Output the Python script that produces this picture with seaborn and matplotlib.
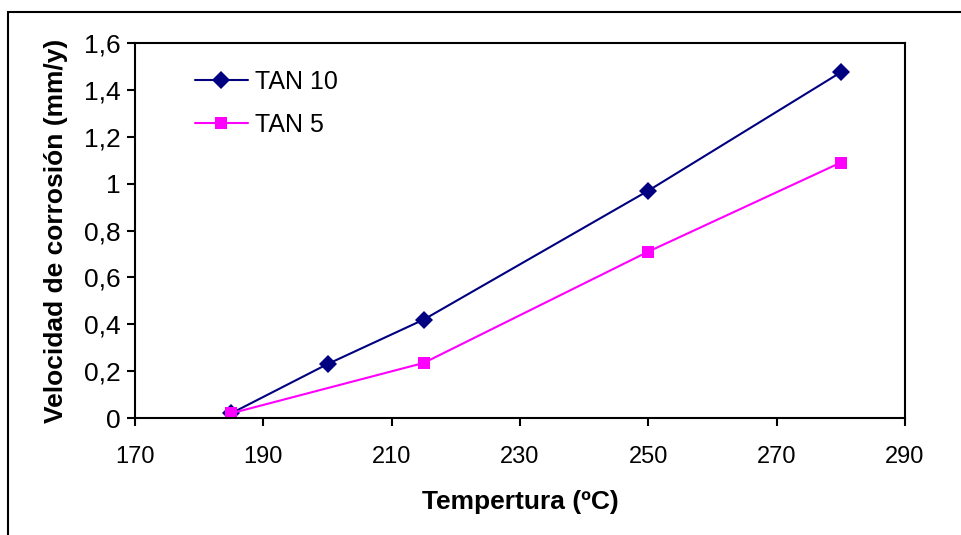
import matplotlib
matplotlib.use("Agg")
import matplotlib.pyplot as plt
import seaborn as sns
import pandas as pd
from matplotlib.ticker import FuncFormatter
from matplotlib.patches import Rectangle

temp_tan10 = [185, 200, 215, 250, 280]
vel_tan10 = [0.02, 0.23, 0.42, 0.97, 1.475]
temp_tan5 = [185, 215, 250, 280]
vel_tan5 = [0.02, 0.235, 0.71, 1.09]
x_ticks = [170, 190, 210, 230, 250, 270, 290]
y_ticks = [0, 0.2, 0.4, 0.6, 0.8, 1.0, 1.2, 1.4, 1.6]

df = pd.concat([
    pd.DataFrame({"T": temp_tan10, "V": vel_tan10, "serie": "TAN 10"}),
    pd.DataFrame({"T": temp_tan5, "V": vel_tan5, "serie": "TAN 5"}),
], ignore_index=True)

sns.set_theme(style="white")
plt.rcParams["font.family"] = ["Liberation Sans", "DejaVu Sans"]
plt.rcParams["text.color"] = "black"
plt.rcParams["axes.labelcolor"] = "black"
plt.rcParams["xtick.color"] = "black"
plt.rcParams["ytick.color"] = "black"

fig = plt.figure(figsize=(9.61, 5.35), dpi=100)
ax = fig.add_axes([135/961, 1-418/535, (905-135)/961, (418-43)/535])

sns.lineplot(data=df, x="T", y="V", hue="serie", style="serie",
             palette={"TAN 10": "#000080", "TAN 5": "#FF00FF"},
             markers={"TAN 10": "D", "TAN 5": "s"}, dashes=False,
             markersize=9, markeredgewidth=0, linewidth=1.5, ax=ax, sort=False)

ax.set_xlim(170, 290)
ax.set_ylim(0, 1.6)
ax.set_xticks(x_ticks)
ax.set_yticks(y_ticks)
def fmt(v, p):
    s = f"{v:.1f}".rstrip("0").rstrip(".")
    return s.replace(".", ",")
ax.yaxis.set_major_formatter(FuncFormatter(fmt))
ax.tick_params(axis="both", direction="out", length=6, width=1.5, color="black",
               labelcolor="black", bottom=True, left=True)
ax.tick_params(axis="y", labelsize=19, pad=4)
ax.tick_params(axis="x", labelsize=17, pad=14)
for s in ax.spines.values():
    s.set_color("black")
    s.set_linewidth(1.5)

ax.set_xlabel("Tempertura (ºC)", fontsize=19, fontweight="bold", labelpad=16, color="black")
ax.set_ylabel("Velocidad de corrosión (mm/y)", fontsize=19, fontweight="bold", labelpad=12, color="black")

leg = ax.legend(loc="upper left", bbox_to_anchor=((195-135)/770, 1 - (70-43)/375),
                frameon=False, fontsize=18, handlelength=2.1, handletextpad=0.3,
                labelspacing=0.75, borderpad=0, borderaxespad=0, title=None)
for t in leg.get_texts():
    t.set_color("black")

fig.patches.append(Rectangle((8/961, -0.1), 1.2, 1 - 12/535 + 0.1,
                             transform=fig.transFigure, fill=False,
                             edgecolor="black", linewidth=1.5))
fig.savefig("out.png", dpi=100)
